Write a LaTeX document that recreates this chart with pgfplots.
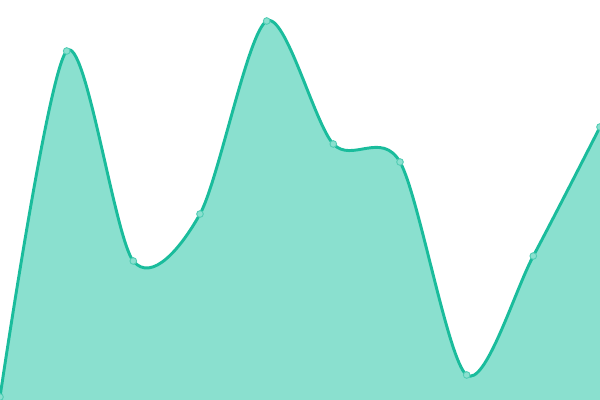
\documentclass[border=0pt]{standalone}
\usepackage{pgfplots}
\pgfplotsset{compat=1.18}
\definecolor{lc}{HTML}{1ABC9C}
\definecolor{fc}{HTML}{8AE0CF}
\begin{document}
\begin{tikzpicture}
\begin{axis}[
  width=450bp, height=300bp, scale only axis,
  xmin=0, xmax=600, ymin=0, ymax=400,
  hide axis, clip=true, clip marker paths=true,
]
\addplot[draw=none, fill=fc, smooth, tension=0.5] coordinates {
(0,3) (66.7,349) (133.3,139) (200,186) (266.7,379) (333.3,256) (400,238) (466.7,25) (533.3,144) (600,273)
} \closedcycle;
\addplot[lc, line width=2.2bp, smooth, tension=0.5, mark=*, mark size=2.5bp,
  mark options={fill=fc, draw=lc!75, line width=0.7bp}] coordinates {
(0,3) (66.7,349) (133.3,139) (200,186) (266.7,379) (333.3,256) (400,238) (466.7,25) (533.3,144) (600,273)
};
\end{axis}
\pgfresetboundingbox
\path (current axis.south west) rectangle (current axis.north east);
\end{tikzpicture}
\end{document}
